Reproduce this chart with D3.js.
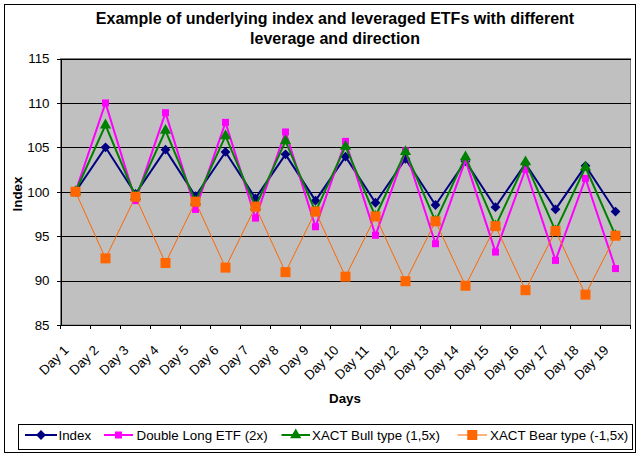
<!DOCTYPE html>
<html><head><meta charset="utf-8">
<script src="https://cdn.jsdelivr.net/npm/d3@7/dist/d3.min.js"></script>
<style>
html,body{margin:0;padding:0;background:#fff;}
svg text{font-family:"Liberation Sans",Arial,sans-serif;}
</style></head>
<body><svg id="c" width="641" height="459"></svg>
<script>
const days = ["Day 1","Day 2","Day 3","Day 4","Day 5","Day 6","Day 7","Day 8","Day 9","Day 10","Day 11","Day 12","Day 13","Day 14","Day 15","Day 16","Day 17","Day 18","Day 19"];
const indexVals = [100,105,99.75,104.74,99.50,104.48,99.25,104.21,99.00,103.95,98.76,103.69,98.51,103.43,98.26,103.18,98.02,102.92,97.77];
const doubleVals = [100,110,99,108.9,98.01,107.81,97.03,106.73,96.06,105.67,95.10,104.61,94.15,103.56,93.21,102.53,92.27,101.50,91.35];
const bullVals = [100,107.5,99.44,106.89,98.88,106.29,98.32,105.70,97.77,105.10,97.22,104.51,96.67,103.92,96.13,103.34,95.59,102.76,95.05];
const bearVals = [100,92.5,99.44,91.98,98.88,91.46,98.32,90.95,97.77,90.44,97.22,89.93,96.67,89.42,96.13,88.92,95.59,88.42,95.05];
const yTicks = [85,90,95,100,105,110,115];
const seriesNames = ["Index","Double Long ETF (2x)","XACT Bull type (1,5x)","XACT Bear type (-1,5x)"];

const svg = d3.select("#c");
const L = 60.5, R = 630.5, T = 58.5, B = 325;
const x = d3.scaleBand().domain(days).range([L, R]);
const y = d3.scaleLinear().domain([85,115]).range([B, T]);
const cx = d => x(d) + x.bandwidth()/2;

// outer border
svg.append("rect").attr("x",4.5).attr("y",4.5).attr("width",631).attr("height",448)
  .attr("fill","#fff").attr("stroke","#000").attr("stroke-width",1);

// title
const title = svg.append("text").attr("text-anchor","middle").attr("font-size","16px").attr("font-weight","bold").attr("fill","#000");
title.append("tspan").attr("x",335).attr("y",24).text("Example of underlying index and leveraged ETFs with different");
title.append("tspan").attr("x",335).attr("y",44).text("leverage and direction");

// plot area
svg.append("rect").attr("x",L).attr("y",T).attr("width",R-L).attr("height",B-T)
  .attr("fill","#C0C0C0").attr("stroke","#808080").attr("stroke-width",1);

// gridlines
svg.append("g").attr("transform",`translate(${L},0)`)
  .call(d3.axisLeft(y).tickValues(yTicks.slice(1)).tickSize(-(R-L)).tickFormat(""))
  .call(g=>g.select(".domain").remove())
  .call(g=>g.selectAll("line").attr("stroke","#000").attr("stroke-width",1).attr("shape-rendering","crispEdges"));

// y axis
svg.append("g").attr("transform",`translate(${L},0)`)
  .call(d3.axisLeft(y).tickValues(yTicks).tickSize(4).tickSizeOuter(0).tickPadding(7))
  .call(g=>g.select(".domain").attr("stroke","#000").attr("shape-rendering","crispEdges"))
  .call(g=>g.selectAll("line").attr("stroke","#000").attr("shape-rendering","crispEdges"))
  .call(g=>g.selectAll("text").attr("font-size","13.33px").attr("fill","#000").attr("font-family","'Liberation Sans',Arial,sans-serif"));

// x axis
const xg = svg.append("g").attr("transform",`translate(0,${B})`)
  .call(d3.axisBottom(x).tickSize(0).tickSizeOuter(0).tickFormat(""));
xg.select(".domain").attr("stroke","#000").attr("shape-rendering","crispEdges");
// tick marks at category boundaries
const edges = days.map(d => x(d)).concat([R]);
xg.selectAll("line.edge").data(edges).enter().append("line").attr("class","edge")
  .attr("x1",d=>d).attr("x2",d=>d).attr("y1",0).attr("y2",4)
  .attr("stroke","#000").attr("shape-rendering","crispEdges");
// rotated labels
xg.selectAll("text.lab").data(days).enter().append("text").attr("class","lab")
  .attr("text-anchor","end").attr("font-size","13.33px").attr("fill","#000")
  .attr("transform",d=>`translate(${cx(d)-6},26) rotate(-45)`)
  .text(d=>d);

// axis titles
svg.append("text").attr("text-anchor","middle").attr("font-size","13.33px").attr("font-weight","bold")
  .attr("transform","translate(21.5,194) rotate(-90)").text("Index");
svg.append("text").attr("text-anchor","middle").attr("font-size","13.33px").attr("font-weight","bold")
  .attr("x",345).attr("y",402.5).text("Days");

// series
const series = [
  {name:seriesNames[0], vals:indexVals, color:"#000080", w:2, sym:"diamond"},
  {name:seriesNames[1], vals:doubleVals, color:"#FF00FF", w:2, sym:"smallsquare"},
  {name:seriesNames[2], vals:bullVals, color:"#008000", w:2, sym:"triangle"},
  {name:seriesNames[3], vals:bearVals, color:"#FF6600", w:1, sym:"square"}
];
function marker(g, s, px, py){
  if (s.sym==="diamond") {
    g.append("path").attr("d",d3.symbol(d3.symbolSquare,48)()).attr("transform",`translate(${px},${py}) rotate(45)`).attr("fill",s.color);
  } else if (s.sym==="smallsquare") {
    g.append("rect").attr("x",px-3.5).attr("y",py-3.5).attr("width",7).attr("height",7).attr("fill",s.color);
  } else if (s.sym==="triangle") {
    g.append("path").attr("d",d3.symbol(d3.symbolTriangle,55)()).attr("transform",`translate(${px},${py})`).attr("fill",s.color);
  } else {
    g.append("rect").attr("x",px-5).attr("y",py-5).attr("width",10).attr("height",10).attr("fill",s.color);
  }
}
const line = d3.line().x((v,i)=>cx(days[i])).y(v=>y(v));
series.forEach(s=>{
  const g = svg.append("g");
  g.append("path").attr("d",line(s.vals)).attr("fill","none").attr("stroke",s.color).attr("stroke-width",s.w);
  s.vals.forEach((v,i)=>marker(g,s,cx(days[i]),y(v)));
});

// legend
svg.append("rect").attr("x",18.5).attr("y",424.5).attr("width",614).attr("height",25)
  .attr("fill","#fff").attr("stroke","#000");
const legX = [[25,57,58.5],[104,133,136.5],[281.5,310,312],[457.5,487,490]];
series.forEach((s,i)=>{
  const g = svg.append("g");
  const [a,b,t] = legX[i];
  g.append("line").attr("x1",a).attr("x2",b).attr("y1",435).attr("y2",435).attr("stroke",s.color).attr("stroke-width",s.w);
  marker(g,s,(a+b)/2,435);
  g.append("text").attr("x",t).attr("y",439.5).attr("font-size","13.33px").attr("fill","#000").text(s.name);
});
</script></body></html>
